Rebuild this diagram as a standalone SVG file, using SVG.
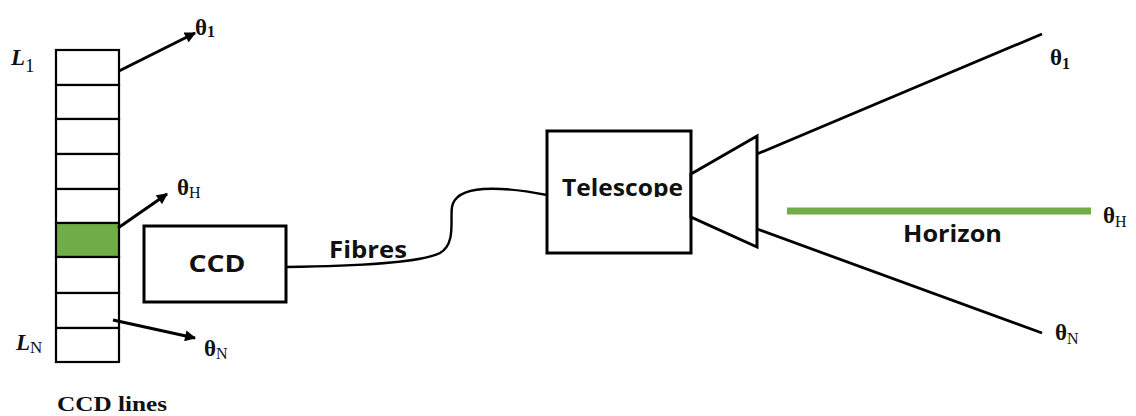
<svg xmlns="http://www.w3.org/2000/svg" width="1136" height="416" viewBox="0 0 1136 416">
  <defs>
    <marker id="arrow" viewBox="0 0 10 10" refX="9" refY="5" markerWidth="12" markerHeight="11" markerUnits="userSpaceOnUse" orient="auto">
      <path d="M0,0 L10,5 L0,10 z" fill="#000"/>
    </marker>
    <clipPath id="teleClip">
      <rect x="547" y="131" width="144" height="66"/>
    </clipPath>
    <style>
      .box { fill: #fff; stroke: #000; stroke-width: 3; }
      .cell { fill: #fff; stroke: #000; stroke-width: 2.2; }
      .line { fill: none; stroke: #000; stroke-width: 2.8; }
      .fibre { fill: none; stroke: #000; stroke-width: 2.4; }
      .ray { fill: none; stroke: #000; stroke-width: 3; marker-end: url(#arrow); }
      .lbl { font-family: "Open Sans", "DejaVu Sans", sans-serif; font-weight: bold; font-size: 23px; fill: #111; }
      .sym { font-family: "Liberation Serif", serif; font-weight: bold; font-size: 23px; fill: #111; }
      .sub { font-size: 16px; }
      .ital { font-family: "Liberation Serif", serif; font-weight: bold; font-style: italic; font-size: 23px; fill: #111; }
      .cap { font-family: "Liberation Serif", serif; font-weight: bold; font-size: 22px; fill: #111; }
    </style>
  </defs>
  <rect width="1136" height="416" fill="#fff"/>

  <!-- CCD line array -->
  <g id="ccd-lines">
    <rect class="cell" x="56" y="50" width="63" height="35"/>
    <rect class="cell" x="56" y="85" width="63" height="34"/>
    <rect class="cell" x="56" y="119" width="63" height="35"/>
    <rect class="cell" x="56" y="154" width="63" height="35"/>
    <rect class="cell" x="56" y="189" width="63" height="34"/>
    <rect x="56" y="223" width="63" height="34" fill="#70AD47" stroke="#000" stroke-width="2.2"/>
    <rect class="cell" x="56" y="257" width="63" height="36"/>
    <rect class="cell" x="56" y="293" width="63" height="35"/>
    <rect class="cell" x="56" y="328" width="63" height="34"/>
    <text class="ital" x="11" y="65">L<tspan font-style="normal" font-weight="normal" font-size="19" dy="7">1</tspan></text>
    <text class="ital" x="16" y="350">L<tspan font-style="normal" font-weight="normal" font-size="17" dy="3">N</tspan></text>
    <text class="cap" x="57" y="411" textLength="110" lengthAdjust="spacingAndGlyphs">CCD lines</text>
  </g>

  <!-- line-of-sight arrows from the array -->
  <g id="array-rays">
    <line class="ray" x1="119" y1="71" x2="195" y2="33"/>
    <line class="ray" x1="118" y1="228" x2="167" y2="194"/>
    <line class="ray" x1="113" y1="320" x2="195" y2="338"/>
    <text class="sym" x="195" y="35">θ<tspan class="sub" dy="2">1</tspan></text>
    <text class="sym" x="177" y="195">θ<tspan class="sub" dy="3" font-weight="normal">H</tspan></text>
    <text class="sym" x="204" y="356">θ<tspan class="sub" dy="3" font-weight="normal">N</tspan></text>
  </g>

  <!-- CCD -->
  <g id="ccd">
    <rect class="box" x="144" y="226" width="142" height="76"/>
    <text class="lbl" x="217" y="272" text-anchor="middle" textLength="57" lengthAdjust="spacingAndGlyphs">CCD</text>
  </g>

  <!-- fibre link -->
  <g id="connectors">
    <path class="fibre" d="M286,267 C360,266 420,263 440,253 C456,244 450,220 452,207 C456,184 500,186 547,195"/>
    <text class="lbl" x="329" y="258" textLength="78" lengthAdjust="spacingAndGlyphs">Fibres</text>
  </g>

  <!-- Telescope -->
  <g id="telescope">
    <rect class="box" x="547" y="131" width="144" height="122"/>
    <text class="lbl" x="562" y="196" textLength="121" lengthAdjust="spacingAndGlyphs" clip-path="url(#teleClip)">Telescope</text>
    <polygon class="box" points="691,174 757,136 757,247 691,217"/>
  </g>

  <!-- field of view -->
  <g id="field">
    <line class="line" x1="757" y1="154" x2="1042" y2="34"/>
    <line class="line" x1="757" y1="229" x2="1042" y2="333"/>
    <line x1="787" y1="211" x2="1091" y2="211" stroke="#70AD47" stroke-width="7"/>
    <text class="lbl" x="903" y="242" textLength="99" lengthAdjust="spacingAndGlyphs">Horizon</text>
    <text class="sym" x="1050" y="65">θ<tspan class="sub" dy="4">1</tspan></text>
    <text class="sym" x="1103" y="223">θ<tspan class="sub" dy="4" font-weight="normal">H</tspan></text>
    <text class="sym" x="1055" y="340">θ<tspan class="sub" dy="4" font-weight="normal">N</tspan></text>
  </g>
</svg>
